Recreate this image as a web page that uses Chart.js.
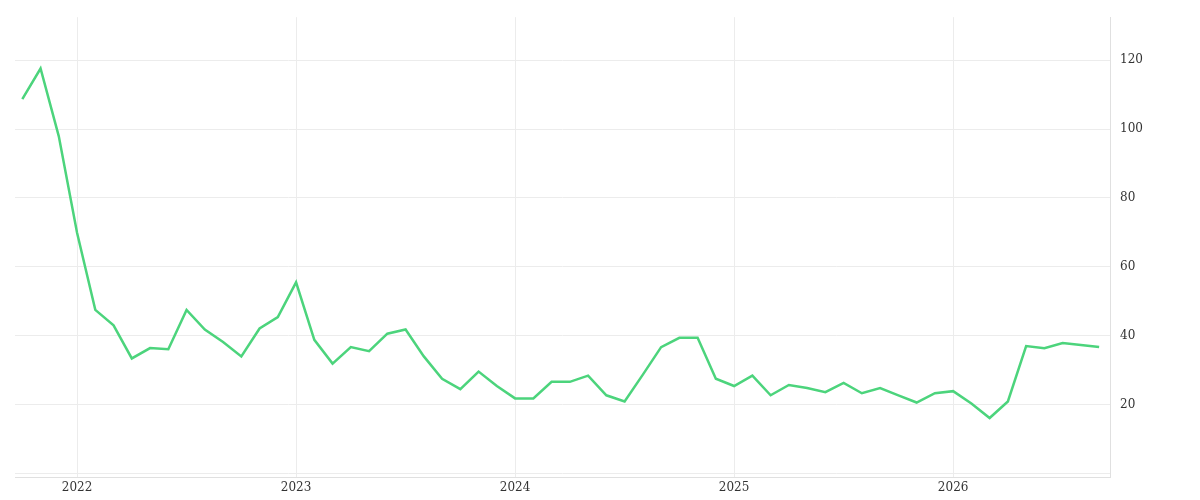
<!DOCTYPE html>
<html><head><meta charset="utf-8">
<script src="https://cdn.jsdelivr.net/npm/chart.js@4"></script>
<style>html,body{margin:0;background:#fff}#w{width:1200px;height:500px}</style>
</head><body><div id="w"><canvas id="c"></canvas></div>
<script>
const monthIndex = [-3,-2,-1,0,1,2,3,4,5,6,7,8,9,10,11,12,13,14,15,16,17,18,19,20,21,22,23,24,25,26,27,28,29,30,31,32,33,34,35,36,37,38,39,40,41,42,43,44,45,46,47,48,49,50,51,52,53,54,55,56];
const values = [108.7,117.6,97.9,69.9,47.5,43,33.4,36.4,36.1,47.5,41.8,38.2,34,42.1,45.4,55.5,38.8,31.9,36.7,35.5,40.6,41.8,34,27.5,24.5,29.6,25.4,21.8,21.8,26.6,26.6,28.4,22.7,20.9,28.7,36.7,39.4,39.4,27.5,25.4,28.4,22.7,25.7,24.8,23.6,26.3,23.3,24.8,22.7,20.6,23.3,23.9,20.3,16.1,20.9,37,36.4,37.9,37.3,36.7];
const yearLabels = ['2022','2023','2024','2025','2026'];
const yTicks = [0,20,40,60,80,100,120];
const pts = monthIndex.map((m,i)=>({x:m,y:values[i]}));
const font = {family:'"DejaVu Serif", serif', size:12};
new Chart(document.getElementById('c'),{
  type:'line',
  data:{datasets:[{data:pts,borderColor:'#4cd47c',borderWidth:2.5,pointRadius:0,tension:0,fill:false}]},
  options:{responsive:true,maintainAspectRatio:false,animation:false,
    layout:{padding:{left:15,right:47,top:7,bottom:2}},
    plugins:{legend:{display:false},tooltip:{enabled:false}},
    scales:{
      x:{type:'linear',min:-3.4,max:56.6,
        afterBuildTicks:a=>{a.ticks=yearLabels.map((_,i)=>({value:i*12}));},
        ticks:{callback:(v)=>yearLabels[Math.round(v/12)],color:'#333',font,maxRotation:0},
        grid:{color:'#ececec',drawTicks:false},border:{display:true,color:'#e0e0e0'}},
      y:{position:'right',min:-1.2,max:132.5,
        afterBuildTicks:a=>{a.ticks=yTicks.map(v=>({value:v}));},
        ticks:{callback:v=>v===0?'':v,color:'#333',font,padding:10},
        grid:{color:'#ececec',drawTicks:false},border:{display:true,color:'#e0e0e0'}}
    }}
});
</script></body></html>
